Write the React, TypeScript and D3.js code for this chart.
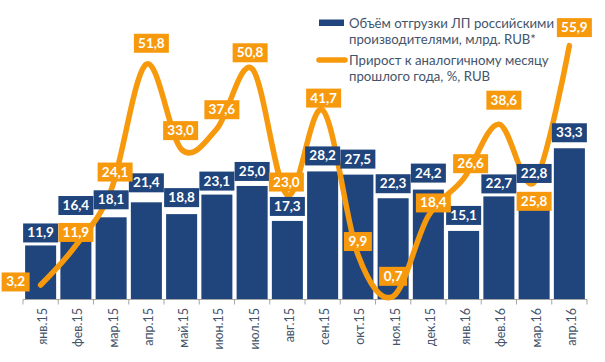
import React from "react";
import * as d3 from "d3";

// months on the x axis
const months = [
  "янв.15", "фев.15", "мар.15", "апр.15", "май.15", "июн.15", "июл.15", "авг.15",
  "сен.15", "окт.15", "ноя.15", "дек.15", "янв.16", "фев.16", "мар.16", "апр.16",
];

// shipments, bln RUB (bars)
const volume = [11.9, 16.4, 18.1, 21.4, 18.8, 23.1, 25.0, 17.3, 28.2, 27.5, 22.3, 24.2, 15.1, 22.7, 22.8, 33.3];

// growth vs same month last year, % (line)
const growth = [3.2, 11.9, 24.1, 51.8, 33.0, 37.6, 50.8, 23.0, 41.7, 9.9, 0.7, 18.4, 26.6, 38.6, 25.8, 55.9];

const legendBars = ["Объём отгрузки ЛП российскими", "производителями, млрд. RUB*"];
const legendLine = ["Прирост к аналогичному месяцу", "прошлого года, %, RUB"];

// label placement tweaks (px)
const barLabelGap = [3, 10, 8, 10, 7, 4, 5, 5, 6, 6, 5, 7, 6, 3, 13, 6];
const lineLabelDx = [-25, 0, 4, 5, -1, 5, -2, -1, 1, 0, 0, 5, 7, 5, 0, 5];
const lineLabelDy = [-3, -13, -18, -21, -19, -19, -16, -13, -12, -13, -20, -13, -15, -24, 19, -18];

const BLUE = "#1F457C";
const ORANGE = "#F7990D";
const TEXT = "#44546A";
const FONT = "Lato, 'Open Sans', sans-serif";

const fmt = (v: number) => v.toFixed(1).replace(".", ",");

const App = () => {
  const width = 605;
  const height = 362;

  const x = d3.scaleBand<string>()
    .domain(months)
    .range([23, 587])
    .paddingInner(0.12)
    .paddingOuter(0.06);

  const y = d3.scaleLinear().domain([0, 60]).range([299.5, 27]);

  const cx = (i: number) => (x(months[i]) as number) + x.bandwidth() / 2;

  const line = d3.line<number>()
    .x((d, i) => cx(i))
    .y((d) => y(d))
    .curve(d3.curveCardinal.tension(0));

  const boxW = (s: string) => (s.length > 3 ? 35 : 28);
  const boxH = 19;

  const step = x.step();
  const ticks = d3.range(months.length + 1).map((i) => 23 + i * step);

  return (
    <svg
      width={width}
      height={height}
      style={{ position: "absolute", left: 0, top: 0, background: "#fff" }}
      fontFamily={FONT}
    >
      {/* bars */}
      {volume.map((v, i) => (
        <rect
          key={"b" + i}
          x={x(months[i])}
          y={y(v)}
          width={x.bandwidth()}
          height={y(0) - y(v)}
          fill={BLUE}
        />
      ))}

      {/* axis */}
      <line x1={23} x2={587} y1={299.5} y2={299.5} stroke="#A6A6A6" />
      {ticks.map((t, i) => (
        <line key={"t" + i} x1={t} x2={t} y1={299.5} y2={304.5} stroke="#A6A6A6" />
      ))}
      {months.map((m, i) => (
        <text
          key={"m" + i}
          transform={`translate(${cx(i) + 6.5},308) rotate(-90)`}
          textAnchor="end"
          fontSize={12.5}
          fill={TEXT}
        >
          {m}
        </text>
      ))}

      {/* growth line */}
      <path
        d={line(growth) || ""}
        fill="none"
        stroke={ORANGE}
        strokeWidth={5.5}
        strokeLinecap="round"
        strokeLinejoin="round"
      />

      {/* bar labels */}
      {volume.map((v, i) => {
        const s = fmt(v);
        const w = boxW(s);
        const bottom = y(v) - barLabelGap[i];
        return (
          <g key={"bl" + i}>
            <rect x={cx(i) - w / 2} y={bottom - boxH} width={w} height={boxH} fill={BLUE} />
            <text
              x={cx(i)}
              y={bottom - 5}
              textAnchor="middle"
              fontSize={13.5}
              fontWeight="bold"
              fill="#fff"
            >
              {s}
            </text>
          </g>
        );
      })}

      {/* line labels */}
      {growth.map((v, i) => {
        const s = fmt(v);
        const w = boxW(s);
        const mx = cx(i) + lineLabelDx[i];
        const my = y(v) + lineLabelDy[i];
        return (
          <g key={"ll" + i}>
            <rect x={mx - w / 2} y={my - boxH / 2} width={w} height={boxH} fill={ORANGE} />
            <text
              x={mx}
              y={my + 4.5}
              textAnchor="middle"
              fontSize={13.5}
              fontWeight="bold"
              fill="#fff"
            >
              {s}
            </text>
          </g>
        );
      })}

      {/* legend */}
      <rect x={319} y={19.5} width={25} height={6.5} fill={BLUE} />
      {legendBars.map((t, i) => (
        <text key={"lb" + i} x={349} y={28 + i * 16} fontSize={13.2} fill={TEXT}>
          {t}
        </text>
      ))}
      <line x1={319} x2={345} y1={60} y2={60} stroke={ORANGE} strokeWidth={5.5} strokeLinecap="round" />
      {legendLine.map((t, i) => (
        <text key={"lg" + i} x={349} y={65 + i * 16} fontSize={13.2} fill={TEXT}>
          {t}
        </text>
      ))}
    </svg>
  );
};

export default App;
